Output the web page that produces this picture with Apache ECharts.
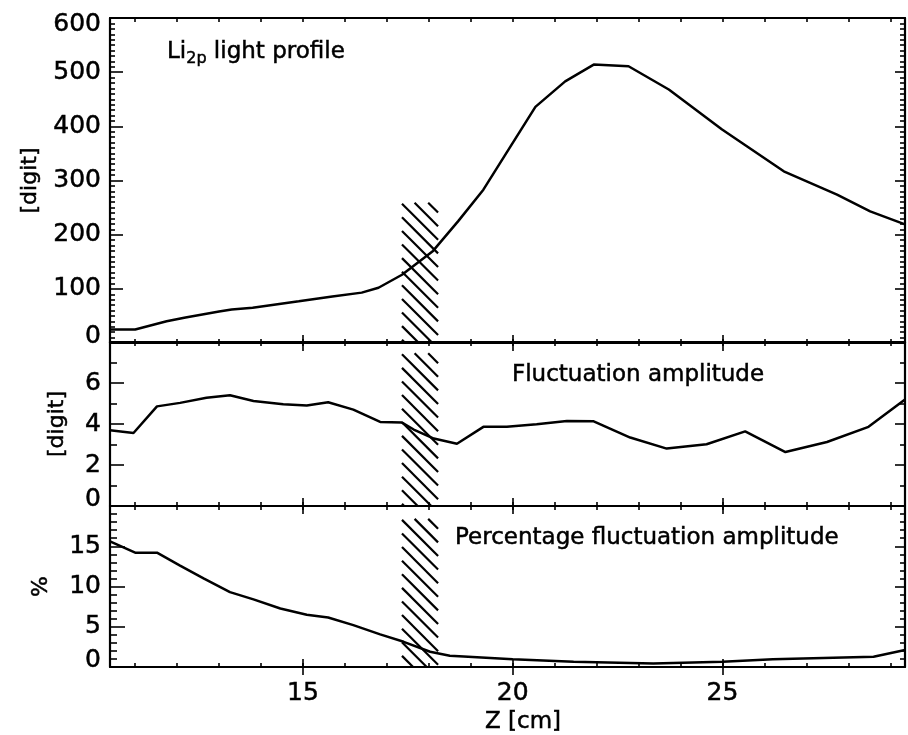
<!DOCTYPE html>
<html><head><meta charset="utf-8">
<script src="https://cdn.jsdelivr.net/npm/echarts@6/dist/echarts.min.js"></script>
<style>html,body{margin:0;padding:0;background:#fff}#c{width:908px;height:735px}</style>
</head><body><div id="c"></div>
<script>
// ---- data ----
const lightZ   = [10.4, 11.0, 11.75, 12.2, 13.0, 13.3, 13.8, 14.9, 15.7, 16.4, 16.8, 17.36, 18.1, 18.7, 19.3, 19.94, 20.54, 21.25, 21.93, 22.76, 23.72, 24.99, 26.46, 27.73, 28.52, 29.35];
const lightVal = [25, 25, 40, 47, 58, 62, 65, 77, 86, 93, 102, 126, 170, 225, 283, 362, 436, 483, 514, 511, 468, 394, 317, 274, 243, 219];

const fluctZ   = [10.4, 10.96, 11.52, 12.07, 12.7, 13.26, 13.82, 14.53, 15.09, 15.6, 16.2, 16.84, 17.36, 17.64, 18.12, 18.67, 19.3, 19.86, 20.57, 21.29, 21.93, 22.8, 23.67, 24.62, 25.54, 26.5, 27.49, 28.48, 29.35];
const fluctVal = [3.69, 3.56, 4.86, 5.03, 5.28, 5.40, 5.12, 4.96, 4.90, 5.06, 4.70, 4.10, 4.07, 3.73, 3.29, 3.04, 3.86, 3.86, 3.99, 4.15, 4.13, 3.34, 2.80, 3.01, 3.64, 2.63, 3.12, 3.86, 5.2];

const pctZ   = [10.4, 11.0, 11.52, 12.07, 12.63, 13.26, 13.82, 14.46, 15.09, 15.6, 16.2, 16.84, 17.4, 18.03, 18.5, 18.83, 20.0, 21.45, 23.35, 25.0, 26.2, 28.6, 29.35];
const pctVal = [15.6, 14.2, 14.2, 12.6, 11.0, 9.3, 8.4, 7.26, 6.5, 6.15, 5.2, 4.05, 3.13, 1.9, 1.4, 1.3, 0.95, 0.66, 0.45, 0.66, 0.95, 1.27, 2.1];

const hatchZ   = [17.36, 18.22];
const hatchTop = [259, 7.45, 18.4];

const xMin = 10.4, xMax = 29.35;
const xMinorTicks = [11,12,13,14,15,16,17,18,19,20,21,22,23,24,25,26,27,28,29];
const xMajorTicks = [15, 20, 25];
const yMaxes     = [600, 8, 20];
const yIntervals = [100, 2, 5];
const ySplits    = [10, 2, 5];
const yNames     = ['[digit]', '[digit]', '%'];
const panelTitles = ['{a|Li}{s|2p}{a| light profile}', 'Fluctuation amplitude', 'Percentage fluctuation amplitude'];
const xTitle = 'Z [cm]';

// ---- layout ----
const FONT = 'DejaVu Sans';
const FS = 23;       // panel titles
const FS_TICK = 25;  // tick labels
const FS_NAME = 22;  // axis names
const TB = 0.5;      // slight text stroke to mimic printed weight
const gridTops = [18, 342, 506];
const gridHeights = [325, 164, 161];
const yNameGaps = [69, 42, 58];
const yMajorLen = [13, 14, 15];
const yMinorLen = [5, 7, 7];

const zip = (a, b) => a.map((v, i) => [v, b[i]]);
const black = '#000';

const grids = gridTops.map((t, i) => ({left: 110, right: 3, top: t, height: gridHeights[i], containLabel: false}));

const xAxes = [];
for (let g = 0; g < 3; g++) {
  for (const pos of ['bottom', 'top']) {
    xAxes.push({
      type: 'value', gridIndex: g, position: pos, min: xMin, max: xMax,
      axisLine: {show: true, onZero: false, lineStyle: {color: black, width: 2.2}},
      axisTick: {show: true, inside: true, length: 4, customValues: xMinorTicks, lineStyle: {color: black, width: 1.6}},
      axisLabel: {show: false},
      splitLine: {show: false}
    });
    const showLab = (g === 2 && pos === 'bottom');
    xAxes.push({
      type: 'value', gridIndex: g, position: pos, min: xMin, max: xMax,
      axisLine: {show: false},
      axisTick: {show: true, inside: true, length: 8, customValues: xMajorTicks, lineStyle: {color: black, width: 1.6}},
      axisLabel: {show: showLab, customValues: xMajorTicks, fontFamily: FONT, fontSize: FS_TICK, color: black, margin: 14,
                  textBorderColor: black, textBorderWidth: TB},
      splitLine: {show: false}
    });
  }
}

const yAxes = [];
for (let g = 0; g < 3; g++) {
  for (const pos of ['left', 'right']) {
    const left = pos === 'left';
    const lab = {fontFamily: FONT, fontSize: FS_TICK, color: black, textBorderColor: black, textBorderWidth: TB};
    yAxes.push({
      type: 'value', gridIndex: g, position: pos, min: 0, max: yMaxes[g], interval: yIntervals[g],
      axisLine: {show: true, onZero: false, lineStyle: {color: black, width: 2.2}},
      axisTick: {show: true, inside: true, length: left ? yMajorLen[g] : 10, lineStyle: {color: black, width: 1.6}},
      minorTick: {show: true, splitNumber: ySplits[g], length: left ? yMinorLen[g] : 5, lineStyle: {color: black, width: 1.6}},
      axisLabel: Object.assign({
        show: left, margin: 9,
        formatter: function (v) {
          if (v === yMaxes[g] && g > 0) return '';
          if (v === 0) return '{up|0}';
          if (v === yMaxes[g]) return '{dn|' + v + '}';
          return String(v);
        },
        rich: {
          up: Object.assign({padding: [0, 0, 14, 0]}, lab),
          dn: Object.assign({padding: [12, 0, 0, 0]}, lab)
        }
      }, lab),
      splitLine: {show: false}, minorSplitLine: {show: false},
      name: left ? yNames[g] : '', nameLocation: 'middle', nameGap: yNameGaps[g],
      nameTextStyle: {fontFamily: FONT, fontSize: FS_NAME, color: black, textBorderColor: black, textBorderWidth: TB}
    });
  }
}

function renderHatch(params, api) {
  const p0 = api.coord([api.value(0), api.value(2)]);
  const p1 = api.coord([api.value(1), 0]);
  const xL = p0[0], xR = p1[0], yT = p0[1], yB = p1[1];
  const step = 13.6;
  const children = [];
  const cRef = yT - xL + 1;
  const cMin = yT - xR, cMax = yB - xL;
  let c = cRef;
  while (c - step >= cMin) c -= step;
  for (; c <= cMax; c += step) {
    const xa = Math.max(xL, yT - c), xb = Math.min(xR, yB - c);
    if (xb - xa > 1) {
      children.push({type: 'line', shape: {x1: xa, y1: xa + c, x2: xb, y2: xb + c},
        style: {stroke: black, lineWidth: 2.2}});
    }
  }
  return {type: 'group', children: children};
}

const lineSeries = [lightZ, fluctZ, pctZ].map((zs, g) => ({
  type: 'line', xAxisIndex: g * 4, yAxisIndex: g * 2,
  data: zip(zs, [lightVal, fluctVal, pctVal][g]),
  showSymbol: false, symbol: 'none', silent: true, animation: false,
  lineStyle: {color: black, width: 2.5}
}));

const hatchSeries = hatchTop.map((top, g) => ({
  type: 'custom', xAxisIndex: g * 4, yAxisIndex: g * 2,
  data: [[hatchZ[0], hatchZ[1], top]],
  encode: {x: [0, 1], y: 2},
  renderItem: renderHatch, silent: true, animation: false, clip: false
}));

const titleStyle = {fill: black, font: FS + 'px "' + FONT + '"', verticalAlign: 'middle', align: 'left',
                    stroke: black, lineWidth: TB};
const option = {
  backgroundColor: '#fff',
  animation: false,
  grid: grids,
  xAxis: xAxes,
  yAxis: yAxes,
  series: hatchSeries.concat(lineSeries),
  graphic: [
    {type: 'text', style: Object.assign({}, titleStyle, {
      x: 167, y: 52, text: panelTitles[0],
      rich: {
        a: {fontFamily: FONT, fontSize: FS, fill: black, stroke: black, lineWidth: TB, lineHeight: 30},
        s: {fontFamily: FONT, fontSize: 16, fill: black, stroke: black, lineWidth: TB, lineHeight: 16, verticalAlign: 'bottom'}
      }})},
    {type: 'text', style: Object.assign({}, titleStyle, {x: 512, y: 375, text: panelTitles[1]})},
    {type: 'text', style: Object.assign({}, titleStyle, {x: 455, y: 538, text: panelTitles[2]})},
    {type: 'text', style: Object.assign({}, titleStyle, {x: 523, y: 722, text: xTitle, align: 'center',
      font: '23px "' + FONT + '"'})}
  ]
};
const chart = echarts.init(document.getElementById('c'), null, {renderer: 'canvas'});
chart.setOption(option);
</script></body></html>
